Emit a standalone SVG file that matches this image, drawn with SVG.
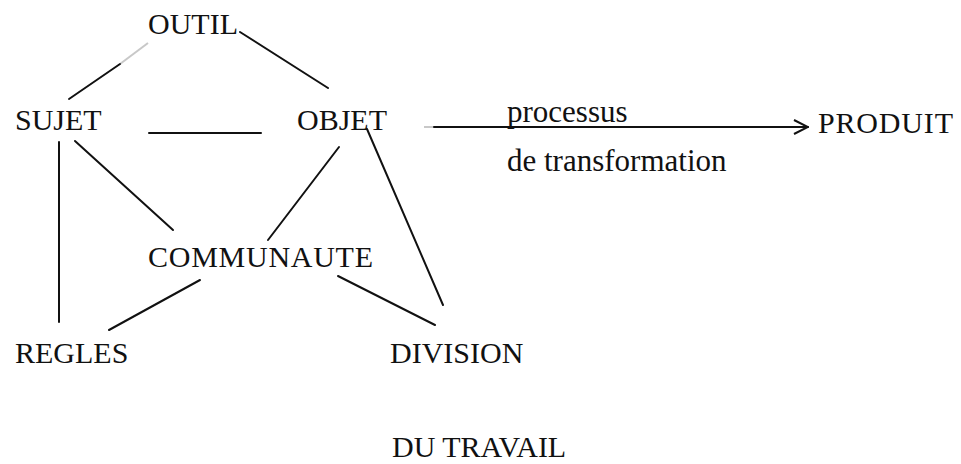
<svg xmlns="http://www.w3.org/2000/svg" width="961" height="464" viewBox="0 0 961 464">
  <style>
    text { font-family: 'Liberation Serif', 'Times New Roman', 'DejaVu Serif', serif; fill: #111; }
    .lbl { font-size: 30px; }
    .sm { font-size: 31px; }
    .edge { stroke: #111; stroke-width: 2; fill: none; stroke-linecap: round; }
    .faint { stroke: #c8c8c8; stroke-width: 2; fill: none; }
  </style>
  <defs>
    <marker id="chev" viewBox="0 0 16 16" refX="15" refY="8" markerWidth="16" markerHeight="16" markerUnits="userSpaceOnUse" orient="auto">
      <polyline points="1,1 15,8 1,15" fill="none" stroke="#111" stroke-width="2"/>
    </marker>
  </defs>
  <rect width="961" height="464" fill="#ffffff"/>

  <g id="connectors">
    <line class="faint" x1="148" y1="43" x2="120" y2="64"/>
    <line class="edge" x1="120" y1="64" x2="69" y2="99"/>
    <line class="edge" x1="240" y1="32" x2="328" y2="88"/>
    <line class="edge" x1="149" y1="133" x2="261" y2="133"/>
    <line class="edge" x1="367" y1="129" x2="443" y2="305"/>
    <line class="edge" x1="59" y1="142" x2="59" y2="322"/>
    <line class="edge" x1="75" y1="141" x2="173" y2="230"/>
    <line class="edge" x1="339" y1="147" x2="268" y2="240"/>
    <line class="edge" x1="200" y1="280" x2="109" y2="330"/>
    <line class="edge" x1="338" y1="276" x2="435" y2="325"/>
    <line class="faint" x1="424" y1="127" x2="434" y2="127"/>
    <line class="edge" x1="434" y1="127" x2="808" y2="127" marker-end="url(#chev)"/>
  </g>

  <g id="outil"><text class="lbl" x="148" y="34" font-family="Liberation Serif, serif">OUTIL</text></g>
  <g id="sujet"><text class="lbl" x="15" y="130" font-family="Liberation Serif, serif">SUJET</text></g>
  <g id="objet"><text class="lbl" x="297" y="130" font-family="Liberation Serif, serif">OBJET</text></g>
  <g id="communaute"><text class="lbl" x="148" y="267" textLength="225" font-family="Liberation Serif, serif">COMMUNAUTE</text></g>
  <g id="regles"><text class="lbl" x="15" y="363" font-family="Liberation Serif, serif">REGLES</text></g>
  <g id="division">
    <text class="lbl" x="390" y="363" font-family="Liberation Serif, serif">DIVISION</text>
    <text class="lbl" x="392" y="457" font-family="Liberation Serif, serif">DU TRAVAIL</text>
  </g>
  <g id="produit"><text class="lbl" x="818" y="133" textLength="135" font-family="Liberation Serif, serif">PRODUIT</text></g>
  <g id="processus">
    <text class="sm" x="507" y="122" font-family="Liberation Serif, serif">processus</text>
    <text class="sm" x="507" y="171" font-family="Liberation Serif, serif">de transformation</text>
  </g>
</svg>
